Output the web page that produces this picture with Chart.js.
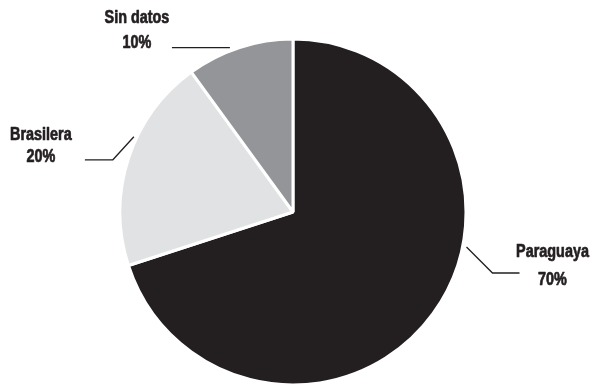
<!DOCTYPE html>
<html>
<head>
<meta charset="utf-8">
<style>
  html, body { margin: 0; padding: 0; background: #ffffff; }
  #wrap { width: 596px; height: 386px; position: relative; }
</style>
<script src="https://cdn.jsdelivr.net/npm/chart.js@4/dist/chart.umd.min.js"></script>
</head>
<body>
<div id="wrap"><canvas id="chart" width="596" height="386"></canvas></div>
<script>
// Origen de los datos: distribución por nacionalidad
const categories = ['Paraguaya', 'Brasilera', 'Sin datos'];
const shares = [70, 20, 10];
const sliceColors = ['#231f20', '#e1e2e3', '#939598'];

// Callouts: the leader starts on the arc at a given angle (degrees, canvas
// orientation) and bends to a short horizontal segment next to the text.
const callouts = [
  { angle: 11.4, r: 177, elbow: [26, 26], tail: 27, text: { dx: 33, y1: -16, y2: 12 } },
  { angle: 205.3, r: 176, elbow: [-21, 23], tail: -28, text: { dx: -44, y1: -20, y2: 2 } },
  { angle: 249, r: 176, elbow: [0, 0], tail: -58, text: { dx: -35, y1: -25, y2: 0 } }
];

// Heavy condensed lettering: a bold face squeezed horizontally and
// lightly outlined to thicken the strokes.
function condensedText(ctx, str, x, y) {
  ctx.save();
  ctx.translate(x, y);
  ctx.scale(0.8, 1);
  ctx.lineWidth = 0.7;
  ctx.lineJoin = 'round';
  ctx.strokeText(str, 0, 0);
  ctx.fillText(str, 0, 0);
  ctx.restore();
}

const calloutPlugin = {
  id: 'callouts',
  afterDatasetsDraw(chart) {
    const ctx = chart.ctx;
    const arc = chart.getDatasetMeta(0).data[0];
    const cx = arc.x, cy = arc.y;
    ctx.save();
    ctx.strokeStyle = '#231f20';
    ctx.fillStyle = '#231f20';
    ctx.font = 'bold 18px "Liberation Sans", Arial, sans-serif';
    ctx.textAlign = 'center';
    ctx.textBaseline = 'alphabetic';
    callouts.forEach((c, i) => {
      const a = c.angle * Math.PI / 180;
      const x0 = cx + c.r * Math.cos(a);
      const y0 = cy + c.r * Math.sin(a);
      const x1 = x0 + c.elbow[0];
      const y1 = y0 + c.elbow[1];
      const x2 = x1 + c.tail;
      ctx.lineWidth = 1.3;
      ctx.beginPath();
      ctx.moveTo(x0, y0);
      ctx.lineTo(x1, y1);
      ctx.lineTo(x2, y1);
      ctx.stroke();
      const tx = x2 + c.text.dx;
      condensedText(ctx, categories[i], tx, y1 + c.text.y1);
      condensedText(ctx, shares[i] + '%', tx, y1 + c.text.y2);
    });
    ctx.restore();
  }
};

new Chart(document.getElementById('chart'), {
  type: 'pie',
  data: {
    labels: categories,
    datasets: [{
      data: shares,
      backgroundColor: sliceColors,
      borderColor: '#ffffff',
      borderWidth: 3,
      radius: 173
    }]
  },
  options: {
    responsive: false,
    animation: false,
    layout: { padding: { top: 40, bottom: 2, left: 0, right: 10 } },
    plugins: {
      legend: { display: false },
      tooltip: { enabled: false }
    }
  },
  plugins: [calloutPlugin]
});
</script>
</body>
</html>
